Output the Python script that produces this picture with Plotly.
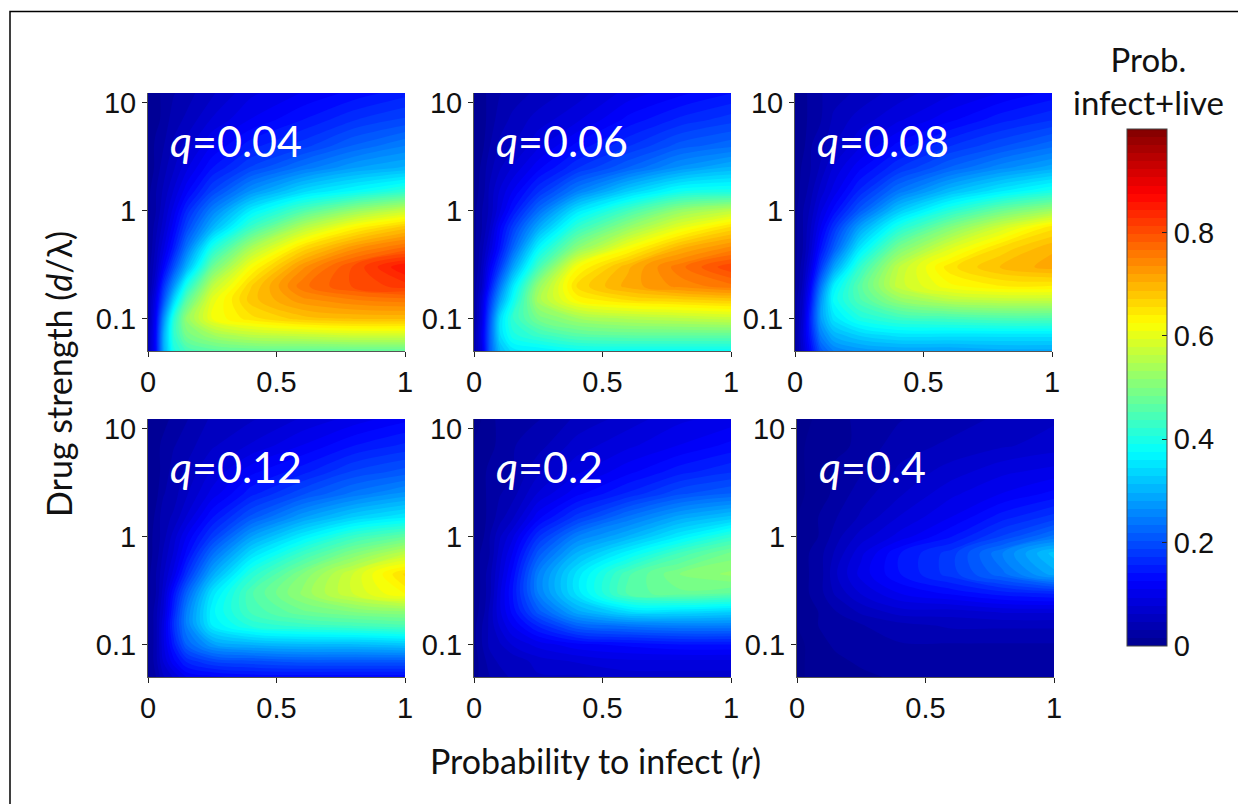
import plotly.graph_objects as go

W, H = 1238, 804

# values (rows listed from the top of each panel to the bottom)
r_vals = [0, 0.03, 0.06, 0.1, 0.15, 0.25, 0.4, 0.6, 0.8, 1]
d_vals = [12.3, 7, 4, 2.5, 1.5, 1, 0.7, 0.45, 0.3, 0.2, 0.15, 0.1, 0.07, 0.05]

q_labels = ["0.04", "0.06", "0.08", "0.12", "0.2", "0.4"]

z_q004 = [
    [.00, .01, .02, .03, .04, .06, .09, .11, .13, .15],
    [.00, .01, .02, .04, .05, .08, .11, .14, .17, .19],
    [.00, .02, .03, .05, .07, .11, .15, .18, .22, .25],
    [.00, .02, .04, .06, .09, .14, .19, .24, .28, .30],
    [.01, .03, .05, .08, .12, .19, .27, .34, .38, .42],
    [.01, .03, .06, .10, .16, .25, .36, .45, .52, .57],
    [.01, .04, .07, .12, .19, .30, .43, .55, .63, .68],
    [.01, .05, .09, .15, .24, .40, .54, .66, .73, .77],
    [.02, .06, .12, .20, .30, .48, .62, .73, .80, .86],
    [.02, .08, .17, .27, .40, .56, .67, .76, .80, .82],
    [.03, .10, .20, .33, .46, .60, .68, .73, .75, .76],
    [.03, .12, .26, .41, .52, .61, .65, .68, .69, .69],
    [.04, .13, .29, .42, .49, .53, .56, .57, .58, .58],
    [.04, .13, .29, .40, .44, .46, .47, .47, .47, .47],
]
z_q006 = [
    [.00, .01, .02, .03, .04, .05, .07, .10, .12, .14],
    [.00, .01, .02, .04, .05, .07, .09, .13, .16, .18],
    [.00, .01, .03, .05, .06, .09, .13, .17, .21, .23],
    [.00, .02, .04, .06, .08, .12, .17, .22, .27, .30],
    [.01, .02, .05, .08, .11, .17, .25, .33, .39, .40],
    [.01, .03, .05, .09, .14, .23, .35, .44, .52, .56],
    [.01, .03, .06, .12, .18, .29, .42, .52, .60, .66],
    [.01, .04, .08, .14, .22, .37, .51, .62, .70, .74],
    [.01, .05, .11, .18, .28, .44, .62, .70, .76, .81],
    [.02, .06, .14, .24, .35, .52, .66, .71, .74, .76],
    [.02, .08, .17, .28, .38, .54, .63, .66, .67, .68],
    [.02, .09, .20, .34, .42, .49, .53, .55, .56, .57],
    [.03, .10, .21, .34, .40, .43, .46, .47, .47, .47],
    [.03, .09, .21, .31, .35, .36, .38, .38, .38, .38],
]
z_q008 = [
    [.00, .01, .02, .03, .04, .05, .07, .09, .11, .13],
    [.00, .01, .02, .03, .05, .07, .09, .12, .15, .17],
    [.00, .01, .03, .04, .06, .09, .13, .17, .20, .23],
    [.00, .02, .03, .05, .08, .12, .17, .22, .26, .29],
    [.01, .02, .04, .07, .10, .16, .24, .31, .36, .40],
    [.01, .03, .05, .09, .13, .21, .32, .41, .48, .53],
    [.01, .03, .06, .11, .17, .28, .40, .50, .58, .65],
    [.01, .03, .07, .14, .21, .35, .49, .59, .66, .70],
    [.01, .04, .09, .18, .28, .42, .56, .65, .69, .71],
    [.01, .05, .12, .24, .36, .46, .57, .62, .64, .64],
    [.02, .06, .14, .27, .38, .45, .52, .56, .57, .57],
    [.02, .07, .16, .28, .35, .40, .43, .44, .45, .45],
    [.02, .08, .15, .25, .30, .33, .35, .35, .35, .35],
    [.02, .07, .13, .21, .25, .27, .28, .28, .29, .29],
]
z_q012 = [
    [.00, .01, .01, .02, .03, .05, .06, .08, .10, .12],
    [.00, .01, .02, .03, .04, .06, .08, .11, .14, .16],
    [.00, .01, .02, .04, .05, .08, .12, .15, .19, .21],
    [.00, .01, .03, .04, .06, .10, .15, .20, .24, .27],
    [.00, .02, .04, .05, .08, .14, .21, .28, .33, .36],
    [.01, .02, .04, .07, .11, .18, .28, .36, .43, .47],
    [.01, .02, .05, .08, .13, .23, .34, .43, .50, .56],
    [.01, .03, .06, .10, .17, .29, .41, .50, .58, .66],
    [.01, .03, .07, .14, .22, .35, .45, .52, .58, .63],
    [.01, .04, .08, .16, .25, .37, .44, .48, .50, .51],
    [.01, .04, .09, .17, .25, .36, .41, .43, .44, .45],
    [.01, .04, .09, .15, .22, .28, .30, .31, .31, .32],
    [.01, .04, .08, .12, .16, .19, .20, .21, .21, .21],
    [.01, .03, .06, .08, .11, .12, .13, .13, .13, .13],
]
z_q020 = [
    [.00, .00, .01, .02, .02, .03, .05, .07, .09, .10],
    [.00, .01, .01, .02, .03, .04, .07, .09, .11, .13],
    [.00, .01, .02, .02, .03, .06, .09, .12, .15, .17],
    [.00, .01, .02, .03, .04, .08, .12, .16, .20, .22],
    [.00, .01, .02, .04, .06, .12, .18, .24, .29, .32],
    [.00, .01, .03, .06, .09, .17, .25, .30, .36, .42],
    [.00, .02, .03, .07, .11, .21, .30, .37, .44, .49],
    [.00, .02, .04, .08, .13, .25, .35, .45, .50, .52],
    [.00, .02, .04, .09, .14, .25, .35, .46, .48, .47],
    [.01, .02, .05, .09, .13, .21, .29, .34, .34, .33],
    [.01, .03, .05, .08, .11, .16, .22, .24, .25, .25],
    [.01, .03, .05, .06, .08, .10, .12, .13, .14, .14],
    [.01, .02, .04, .05, .05, .07, .08, .09, .09, .09],
    [.01, .02, .03, .04, .05, .06, .06, .07, .07, .07],
]
z_q040 = [
    [.00, .00, .00, .01, .01, .02, .03, .04, .05, .06],
    [.00, .00, .01, .01, .01, .02, .04, .05, .06, .07],
    [.00, .00, .01, .01, .02, .03, .05, .07, .09, .10],
    [.00, .00, .01, .01, .02, .04, .06, .09, .11, .13],
    [.00, .01, .01, .02, .03, .05, .08, .11, .15, .18],
    [.00, .01, .01, .02, .04, .07, .10, .14, .19, .24],
    [.00, .01, .02, .03, .05, .09, .14, .18, .25, .32],
    [.00, .01, .02, .03, .06, .10, .14, .18, .23, .29],
    [.00, .01, .02, .03, .05, .08, .11, .13, .15, .16],
    [.00, .01, .01, .02, .03, .05, .07, .07, .08, .08],
    [.00, .01, .01, .02, .02, .03, .04, .05, .05, .05],
    [.00, .00, .01, .01, .02, .02, .03, .03, .03, .03],
    [.00, .00, .01, .01, .01, .02, .02, .02, .02, .02],
    [.00, .00, .01, .01, .01, .01, .02, .02, .02, .02],
]
panels = [z_q004, z_q006, z_q008, z_q012, z_q020, z_q040]

x_ticks = [0, 0.5, 1]
x_ticktext = ["0", "0.5", "1"]
y_ticks = [0.1, 1, 10]
y_ticktext = ["0.1", "1", "10"]
cb_ticks = [0, 0.2, 0.4, 0.6, 0.8]
cb_ticktext = ["0", "0.2", "0.4", "0.6", "0.8"]

JET = [[0, "rgb(0,0,143)"], [0.125, "rgb(0,0,255)"], [0.375, "rgb(0,255,255)"],
       [0.625, "rgb(255,255,0)"], [0.875, "rgb(255,0,0)"], [1, "rgb(128,0,0)"]]

# panel boxes in pixels: left, right, top, bottom
boxes = [(148, 405, 93, 351), (474, 731, 93, 351), (795, 1052, 93, 351),
         (148, 405, 419, 677), (474, 731, 419, 677), (797, 1054, 419, 677)]

TICK_FONT = dict(family="Liberation Sans, Arial, sans-serif", size=29, color="#111")
CAL = "Lato, 'Open Sans', sans-serif"

fig = go.Figure()
for i, (z, box) in enumerate(zip(panels, boxes)):
    n = "" if i == 0 else str(i + 1)
    l, rr, t, b = box
    trace = dict(
        x=r_vals, y=d_vals[::-1], z=z[::-1],
        colorscale=JET, zmin=0, zmax=1, zauto=False,
        autocontour=False,
        contours=dict(start=0, end=1, size=1 / 64, coloring="fill", showlines=False),
        line=dict(width=0),
        xaxis="x" + n, yaxis="y" + n,
        hoverinfo="skip",
        showscale=(i == 0),
    )
    if i == 0:
        trace["colorbar"] = dict(
            xref="paper", yref="paper",
            x=1127 / W, xanchor="left", y=1 - 646 / H, yanchor="bottom",
            lenmode="fraction", len=517 / H,
            thicknessmode="pixels", thickness=40,
            xpad=0, ypad=0,
            outlinecolor="#444", outlinewidth=1, borderwidth=0,
            ticks="inside", ticklen=5, tickcolor="#222", tickwidth=1,
            tickmode="array", tickvals=cb_ticks, ticktext=cb_ticktext,
            tickfont=dict(family="Liberation Sans, Arial, sans-serif", size=29, color="#111"),
        )
    fig.add_trace(go.Contour(**trace))
    fig.update_layout({
        "xaxis" + n: dict(
            domain=[l / W, rr / W], anchor="y" + n, range=[0, 1],
            tickmode="array", tickvals=x_ticks, ticktext=x_ticktext,
            ticks="outside", ticklen=5, tickwidth=1, tickcolor="#222",
            showline=True, linecolor="#555", linewidth=1, showgrid=False, zeroline=False,
            tickfont=TICK_FONT),
        "yaxis" + n: dict(
            domain=[1 - b / H, 1 - t / H], anchor="x" + n, type="log", range=[-1.301, 1.09],
            tickmode="array", tickvals=y_ticks, ticktext=y_ticktext,
            ticks="outside", ticklen=5, tickwidth=1, tickcolor="#222",
            showline=True, linecolor="#555", linewidth=1, showgrid=False, zeroline=False,
            tickfont=TICK_FONT),
    })
    fig.add_annotation(
        xref="paper", yref="paper", x=(l + 20) / W, y=1 - (t + 47) / H,
        xanchor="left", yanchor="middle", showarrow=False,
        text="<i>q</i>=" + q_labels[i],
        font=dict(family=CAL, size=43, color="white"))

fig.add_annotation(xref="paper", yref="paper", x=595 / W, y=1 - 760 / H, showarrow=False,
                   xanchor="center", yanchor="middle",
                   text="Probability to infect (<i>r</i>)",
                   font=dict(family=CAL, size=34, color="#111"))
fig.add_annotation(xref="paper", yref="paper", x=58 / W, y=1 - 374 / H, showarrow=False,
                   xanchor="center", yanchor="middle", textangle=-90,
                   text="Drug strength (<i>d</i>/λ)",
                   font=dict(family=CAL, size=34, color="#111"))
fig.add_annotation(xref="paper", yref="paper", x=1148 / W, y=1 - 80 / H, showarrow=False,
                   xanchor="center", yanchor="middle", align="center",
                   text="Prob.<br>infect+live",
                   font=dict(family=CAL, size=33, color="#111"))

fig.update_layout(
    width=W, height=H, margin=dict(l=0, r=0, t=0, b=0, pad=0, autoexpand=False),
    paper_bgcolor="white", plot_bgcolor="white", showlegend=False,
    shapes=[dict(type="rect", xref="paper", yref="paper",
                 x0=10 / W, x1=1.05, y0=-0.05, y1=1 - 11.5 / H,
                 line=dict(color="black", width=1.5), fillcolor="rgba(0,0,0,0)", layer="below")],
)

fig.write_html("out.html", config={"displayModeBar": False},
               post_script="document.body.style.margin='0';")
